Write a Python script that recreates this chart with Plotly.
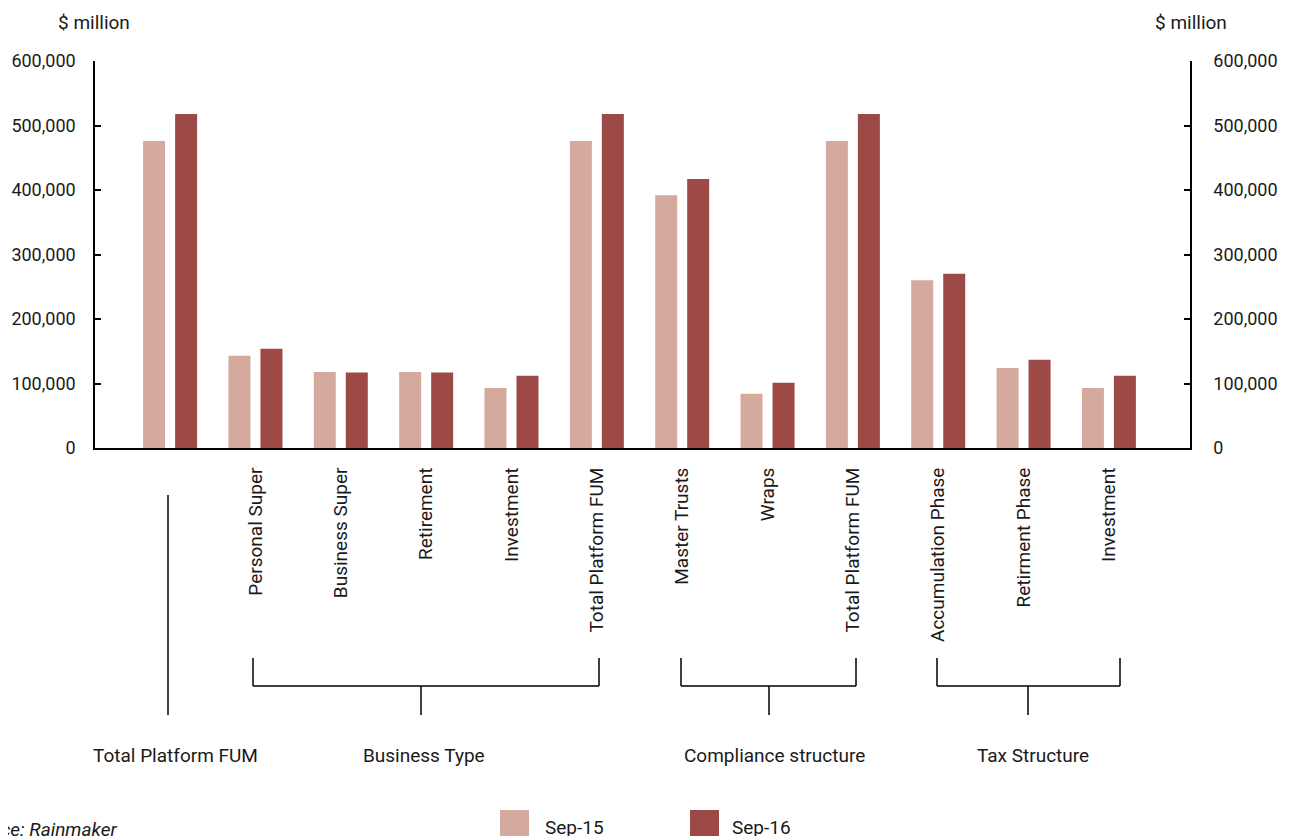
import plotly.graph_objects as go

categories = ["Total Platform FUM", "Personal Super", "Business Super", "Retirement",
              "Investment", "Total Platform FUM", "Master Trusts", "Wraps",
              "Total Platform FUM", "Accumulation Phase", "Retirment Phase", "Investment"]
tick_labels = ["", "Personal Super", "Business Super", "Retirement", "Investment",
               "Total Platform FUM", "Master Trusts", "Wraps", "Total Platform FUM",
               "Accumulation Phase", "Retirment Phase", "Investment"]
sep15 = [476000, 143000, 118000, 118000, 93000, 476000, 392000, 84000, 476000, 260000, 124000, 93000]
sep16 = [518000, 154000, 117000, 117000, 112000, 518000, 417000, 101000, 518000, 270000, 137000, 112000]
series_names = ["Sep-15", "Sep-16"]
group_names = ["Total Platform FUM", "Business Type", "Compliance structure", "Tax Structure"]
y_ticks = [0, 100000, 200000, 300000, 400000, 500000, 600000]

C15 = "#D3AA9D"
C16 = "#9D4946"
TXT = "#1a1a1a"
FONT = "Roboto"
FS = 19

# page body has an 8px margin; work in screen pixels and shift
OFF = 8
W, H = 1293 - OFF, 836 - OFF
PL, PR, PT, PB = 95, 1190, 61, 448   # plot area in screen pixels
L = PL - OFF
T = PT - OFF
R = W - (PR - OFF)
B = H - (PB - OFF)
PW = W - L - R
PH = H - T - B
def px(p):
    return (p - PL) / PW
def py(p):
    return (PB - p) / PH

xs = list(range(len(categories)))

fig = go.Figure()
fig.add_trace(go.Bar(x=xs, y=sep15, name=series_names[0], marker_color=C15,
                     marker_line_width=0, hovertext=categories))
fig.add_trace(go.Bar(x=xs, y=sep16, name=series_names[1], marker_color=C16,
                     marker_line_width=0, hovertext=categories))
fig.add_trace(go.Scatter(x=[0], y=[0], mode="none", yaxis="y2", showlegend=False,
                         hoverinfo="skip"))

axis_font = dict(family=FONT, size=FS, color=TXT)
ytick_font = dict(family=FONT, size=18, color=TXT)
fig.update_layout(
    width=W, height=H,
    margin=dict(l=L, r=R, t=T, b=B, pad=0, autoexpand=False),
    paper_bgcolor="white", plot_bgcolor="white",
    barmode="group", bargap=0.25, bargroupgap=0.3125,
    showlegend=False,
    font=axis_font,
    xaxis=dict(range=[-0.88, 11.95], tickvals=xs, ticktext=tick_labels,
               tickangle=-90, ticks="", showgrid=False, zeroline=False,
               showline=True, linecolor="black", linewidth=2, automargin=False,
               tickfont=axis_font, ticklabelstandoff=10),
    yaxis=dict(range=[0, 600000], tickvals=y_ticks, tickformat=",d",
               ticks="inside", ticklen=6, tickwidth=2, tickcolor="black",
               showline=True, linecolor="black", linewidth=1.5, automargin=False,
               showgrid=False, zeroline=False, tickfont=ytick_font,
               ticklabelstandoff=14),
    yaxis2=dict(range=[0, 600000], tickvals=y_ticks, tickformat=",d",
                overlaying="y", side="right", automargin=False,
                ticks="inside", ticklen=6, tickwidth=2, tickcolor="black",
                showline=True, linecolor="black", linewidth=1.5,
                showgrid=False, zeroline=False, tickfont=ytick_font,
                ticklabelstandoff=18),
)

shapes = []
annotations = []
line = dict(color="black", width=1.5)
def seg(x0, y0, x1, y1):
    shapes.append(dict(type="line", xref="paper", yref="paper", x0=px(x0), x1=px(x1),
                       y0=py(y0), y1=py(y1), line=line))

# bracket geometry (screen pixels): (left, right, centre tick, label centre)
brackets = [(None, None, 168, 175), (253, 599, 421, 424), (681, 856, 769, 774), (937, 1120, 1028, 1033)]
for name, (a, b, c, lc) in zip(group_names, brackets):
    if a is None:
        seg(c, 495, c, 715)
    else:
        seg(a, 658, a, 686)
        seg(b, 658, b, 686)
        seg(a, 686, b, 686)
        seg(c, 686, c, 715)
    annotations.append(dict(text=name, xref="paper", yref="paper", x=px(lc), y=py(755),
                            showarrow=False, xanchor="center", yanchor="middle",
                            font=axis_font))

# "$ million" axis titles
annotations.append(dict(text="$ million", xref="paper", yref="paper", x=px(94), y=py(22),
                        showarrow=False, xanchor="center", yanchor="middle", font=axis_font))
annotations.append(dict(text="$ million", xref="paper", yref="paper", x=px(1191), y=py(22),
                        showarrow=False, xanchor="center", yanchor="middle", font=axis_font))

# manual legend
for name, col, x0, tx in [(series_names[0], C15, 500, 543), (series_names[1], C16, 690, 730)]:
    shapes.append(dict(type="rect", xref="paper", yref="paper", x0=px(x0), x1=px(x0 + 29),
                       y0=py(810), y1=py(845), fillcolor=col, line=dict(width=0)))
    annotations.append(dict(text=name, xref="paper", yref="paper", x=px(tx), y=py(827),
                            showarrow=False, xanchor="left", yanchor="middle", font=axis_font))

# source note
annotations.append(dict(text="<i>Source: Rainmaker</i>", xref="paper", yref="paper",
                        x=px(119), y=py(829), showarrow=False, xanchor="right",
                        yanchor="middle", font=axis_font))

fig.update_layout(shapes=shapes, annotations=annotations)
fig.write_html("out.html")
